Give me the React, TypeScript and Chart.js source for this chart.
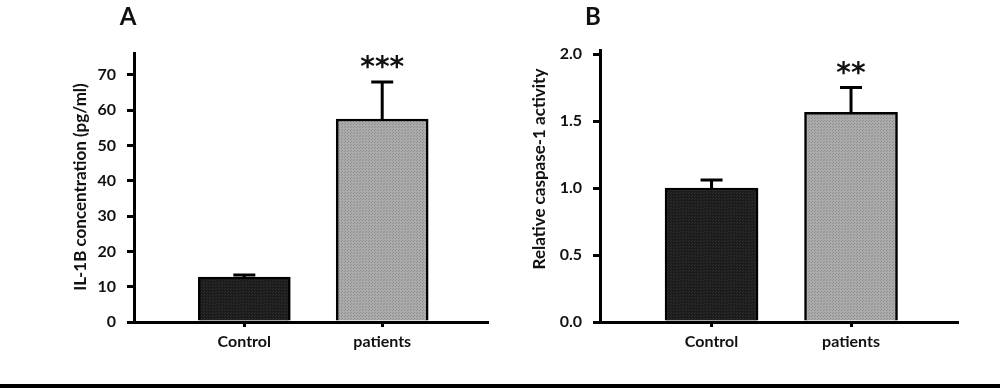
import React, { useEffect, useRef } from 'react';
import { Chart, registerables } from 'chart.js';

Chart.register(...registerables);

// ---- data ----
const categories = ['Control', 'patients'];

const il1bMeans = [12.7, 57.5];
const il1bErrors = [0.6, 10.5];
const il1bTicks = [0, 10, 20, 30, 40, 50, 60, 70];
const il1bStars = ['', '***'];
const il1bTitle = 'IL-1B concentration (pg/ml)';

const caspaseMeans = [1.0, 1.565];
const caspaseErrors = [0.06, 0.185];
const caspaseTicks = [0, 0.5, 1.0, 1.5, 2.0];
const caspaseStars = ['', '**'];
const caspaseTitle = 'Relative caspase-1 activity';

const FONT = 'Lato, "Open Sans", "Liberation Sans", sans-serif';
const STAR_FONT = '"DejaVu Sans", sans-serif';
const INK = '#111';

function makePattern(base: string, dot: string): CanvasPattern | string {
  const c = document.createElement('canvas');
  c.width = 3;
  c.height = 3;
  const g = c.getContext('2d');
  if (!g) return base;
  g.fillStyle = base;
  g.fillRect(0, 0, 3, 3);
  g.fillStyle = dot;
  g.fillRect(0, 0, 1, 1);
  g.fillRect(2, 1, 1, 1);
  const p = g.createPattern(c, 'repeat');
  return p || base;
}

type PanelProps = {
  left: number;
  letter: string;
  means: number[];
  errors: number[];
  ticks: number[];
  stars: string[];
  title: string;
  yMax: number;
  decimals: number;
  padTop: number;
  padRight: number;
  yWidth: number;
  barWidth: number;
  titleX: number;
  titleY: number;
  letterX: number;
  letterY: number;
};

function Panel(p: PanelProps) {
  const ref = useRef<HTMLCanvasElement>(null);

  useEffect(() => {
    const canvas = ref.current;
    if (!canvas) return;
    const ctx = canvas.getContext('2d');
    if (!ctx) return;

    const fills = [makePattern('#1c1c1c', '#2f2f2f'), makePattern('#ababab', '#8e8e8e')];

    const overlay = {
      id: 'overlay' + p.letter,
      afterDatasetsDraw(chart: any) {
        const c = chart.ctx;
        const xs = chart.scales.x;
        const ys = chart.scales.y;
        c.save();
        c.strokeStyle = '#000';
        c.lineWidth = 3;
        p.means.forEach((m, i) => {
          const x = xs.getPixelForValue(i);
          const yb = ys.getPixelForValue(m);
          const yt = ys.getPixelForValue(m + p.errors[i]);
          c.beginPath();
          c.moveTo(x, yb);
          c.lineTo(x, yt);
          c.moveTo(x - 11, yt);
          c.lineTo(x + 11, yt);
          c.stroke();
          if (p.stars[i]) {
            c.fillStyle = INK;
            c.font = 'bold 28px ' + STAR_FONT;
            c.textAlign = 'center';
            c.textBaseline = 'alphabetic';
            c.fillText(p.stars[i], x, yt - 6);
          }
        });
        c.restore();
      },
      afterDraw(chart: any) {
        const c = chart.ctx;
        c.save();
        c.fillStyle = INK;
        c.font = 'bold 17px ' + FONT;
        c.textAlign = 'center';
        c.textBaseline = 'middle';
        c.translate(p.titleX, p.titleY);
        c.rotate(-Math.PI / 2);
        c.fillText(p.title, 0, 0);
        c.restore();
        c.save();
        c.fillStyle = INK;
        c.font = 'bold 24px ' + FONT;
        c.textAlign = 'center';
        c.textBaseline = 'middle';
        c.fillText(p.letter, p.letterX, p.letterY);
        c.restore();
      },
    };

    const chart = new Chart(ctx, {
      type: 'bar',
      data: {
        datasets: [
          {
            data: p.means.map((m, i) => ({ x: i, y: m })),
            backgroundColor: fills as any,
            borderColor: '#000',
            borderWidth: 2.5,
            barThickness: p.barWidth,
            borderSkipped: 'bottom',
          } as any,
        ],
      },
      options: {
        animation: false,
        responsive: false,
        maintainAspectRatio: false,
        layout: { padding: { top: p.padTop, right: p.padRight, left: 0, bottom: 0 } },
        plugins: {
          legend: { display: false },
          tooltip: { enabled: false },
          title: { display: false },
        },
        scales: {
          x: {
            type: 'linear',
            offset: false,
            bounds: 'data',
            min: -0.8,
            max: 1.76,
            afterBuildTicks: (s: any) => {
              s.ticks = categories.map((_, i) => ({ value: i }));
            },
            afterFit: (s: any) => {
              s.height = 66;
            },
            ticks: {
              callback: (v: any) => categories[v as number] ?? '',
              font: { family: FONT, size: 16, weight: 'bold' },
              color: INK,
              padding: 5,
              maxRotation: 0,
              autoSkip: false,
            },
            grid: { offset: false, drawOnChartArea: false, drawTicks: true, tickLength: 5, lineWidth: 3, color: '#000' },
            border: { display: true, width: 3, color: '#000' },
          },
          y: {
            min: 0,
            max: p.yMax,
            afterBuildTicks: (s: any) => {
              s.ticks = p.ticks.map((v) => ({ value: v }));
            },
            afterFit: (s: any) => {
              s.width = p.yWidth;
            },
            ticks: {
              callback: (v: any) => Number(v).toFixed(p.decimals),
              font: { family: FONT, size: 16, weight: 'bold' },
              color: INK,
              padding: 11,
            },
            grid: { drawOnChartArea: false, drawTicks: true, tickLength: 7, lineWidth: 3, color: '#000' },
            border: { display: true, width: 3, color: '#000' },
          },
        },
      } as any,
      plugins: [overlay],
    });

    return () => chart.destroy();
  }, []);

  return (
    <canvas
      ref={ref}
      width={500}
      height={388}
      style={{ position: 'absolute', left: p.left, top: 0, width: 500, height: 388 }}
    />
  );
}

export default function App() {
  return (
    <div
      style={{
        position: 'fixed',
        left: 0,
        top: 0,
        width: 1000,
        height: 388,
        background: '#fff',
        overflow: 'hidden',
      }}
    >
      <Panel
        left={0}
        letter="A"
        means={il1bMeans}
        errors={il1bErrors}
        ticks={il1bTicks}
        stars={il1bStars}
        title={il1bTitle}
        yMax={76.2}
        decimals={0}
        padTop={53}
        padRight={13}
        yWidth={134}
        barWidth={92}
        titleX={81}
        titleY={187}
        letterX={128}
        letterY={17}
      />
      <Panel
        left={500}
        letter="B"
        means={caspaseMeans}
        errors={caspaseErrors}
        ticks={caspaseTicks}
        stars={caspaseStars}
        title={caspaseTitle}
        yMax={2.03}
        decimals={1}
        padTop={50}
        padRight={43}
        yWidth={100}
        barWidth={93}
        titleX={40}
        titleY={169}
        letterX={93}
        letterY={17}
      />
      <div style={{ position: 'absolute', left: 0, top: 384, width: 1000, height: 4, background: '#000' }} />
    </div>
  );
}
